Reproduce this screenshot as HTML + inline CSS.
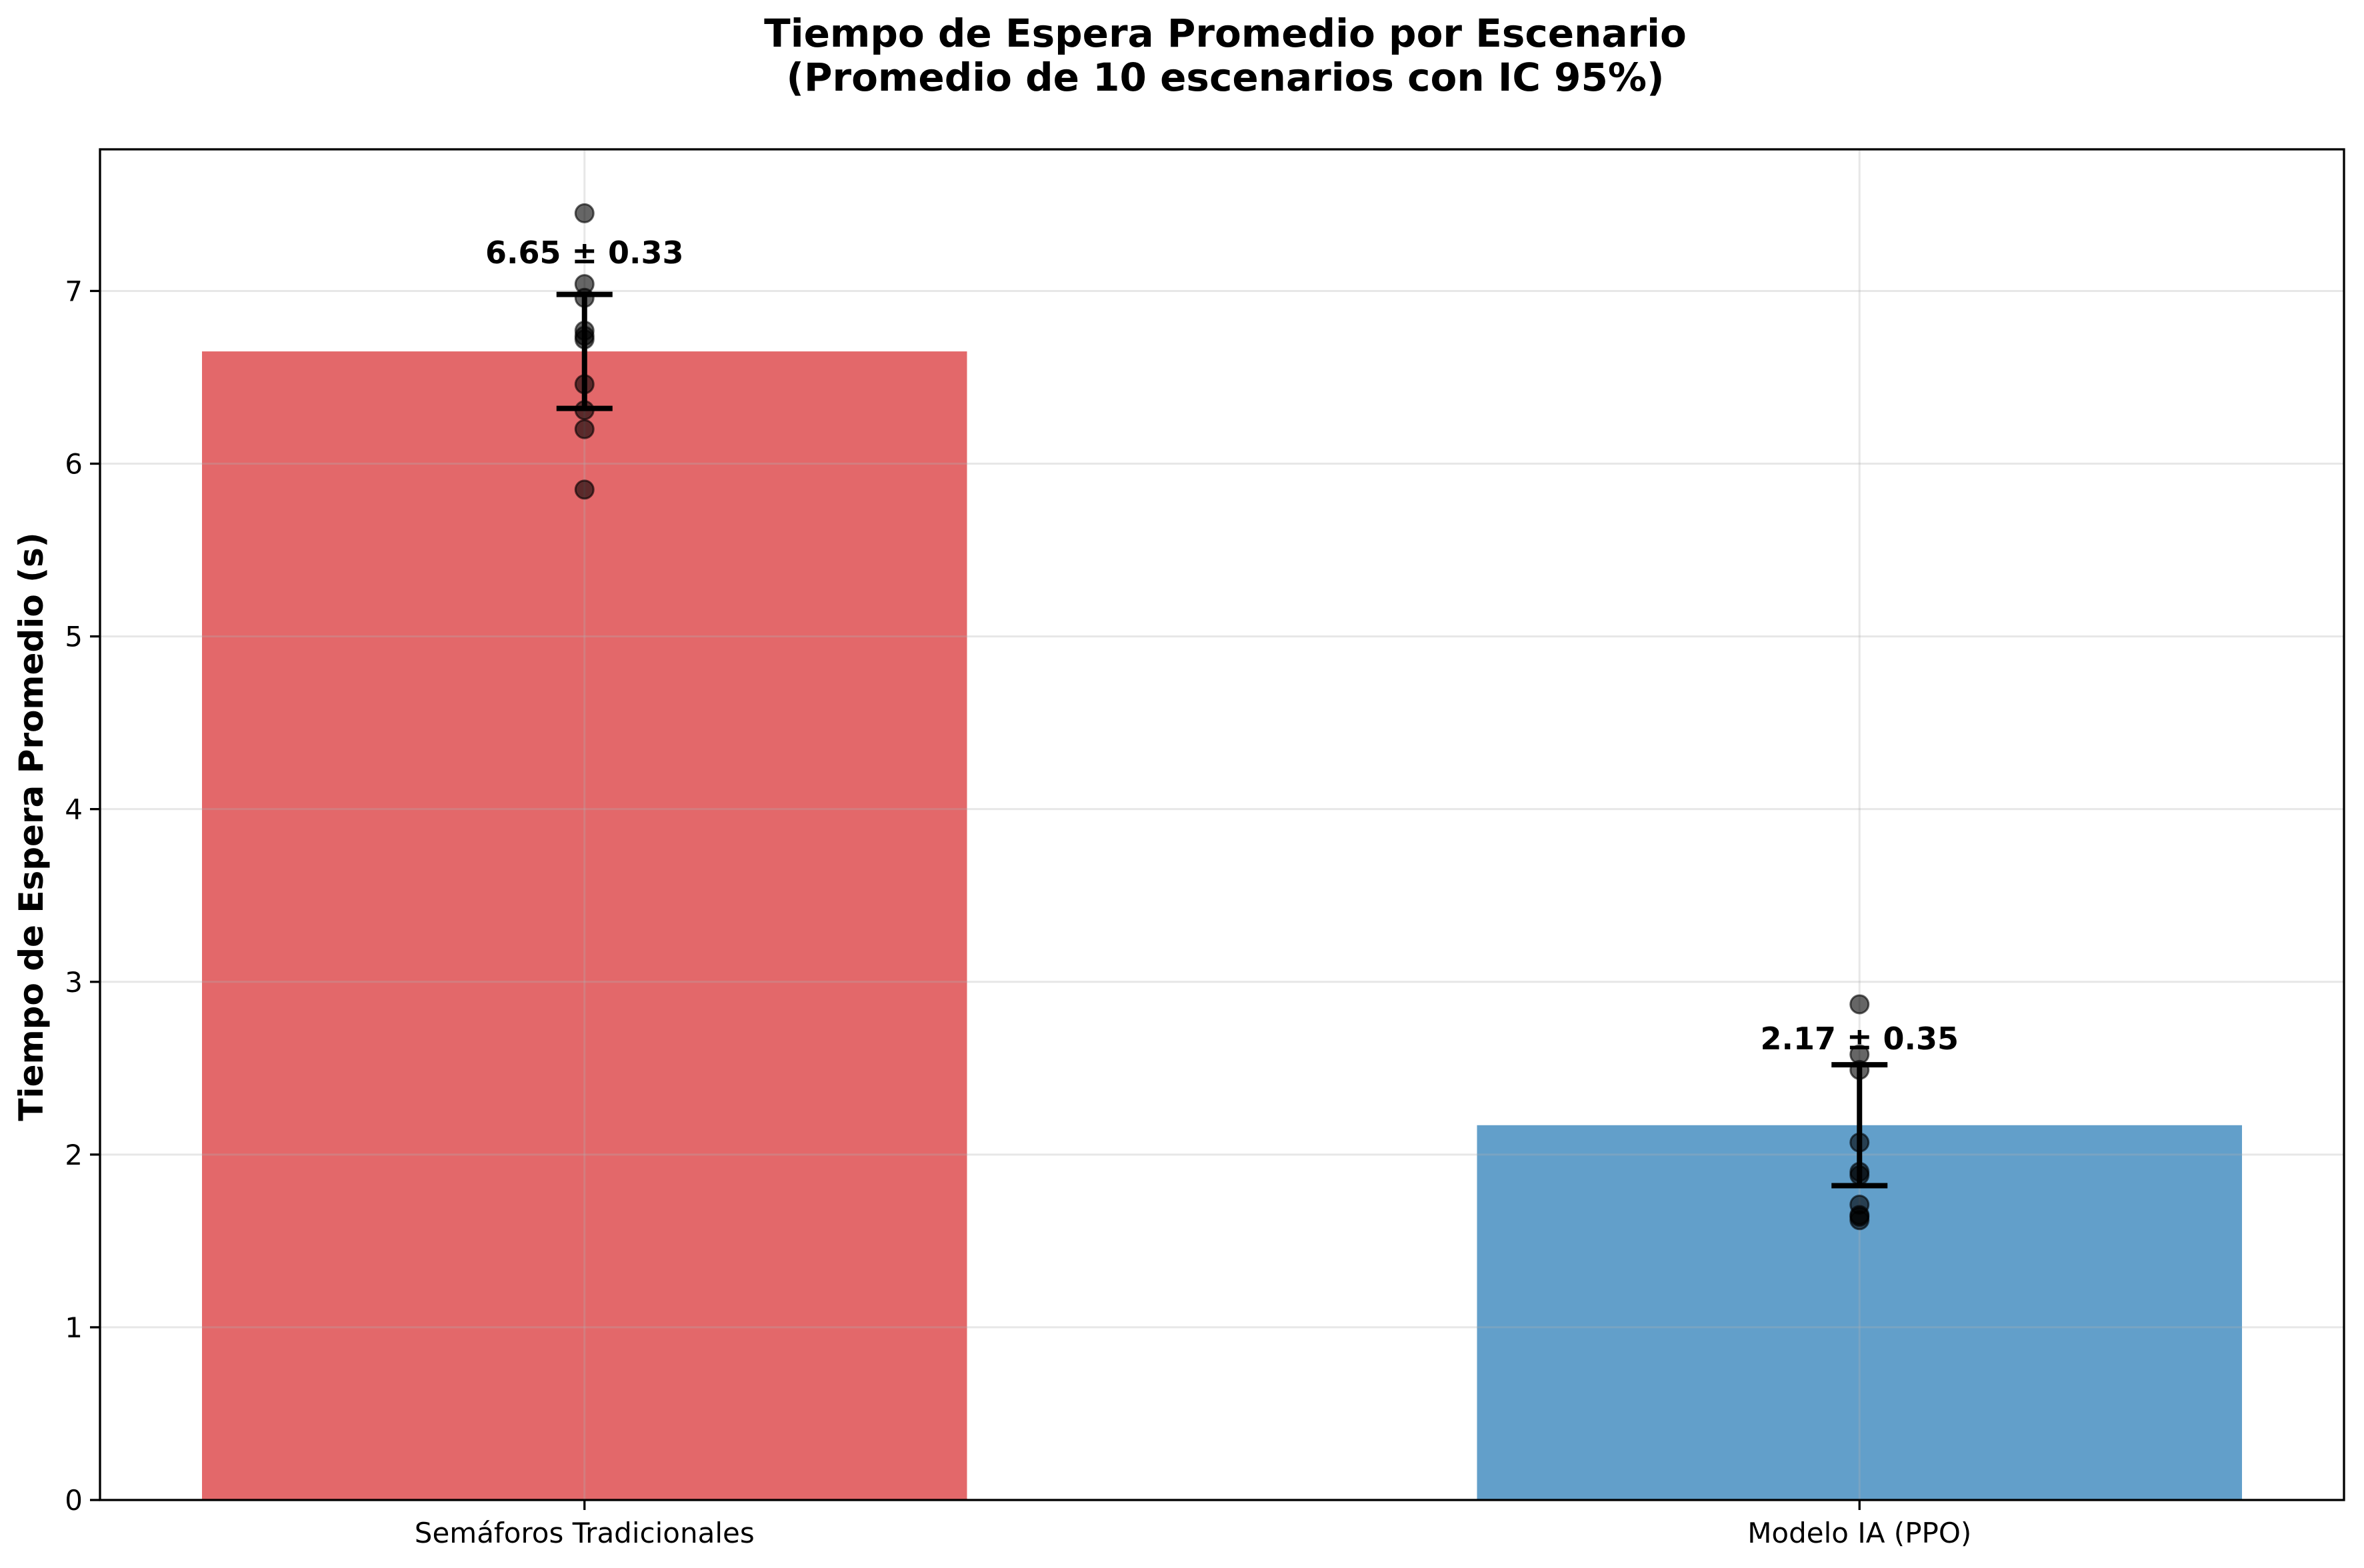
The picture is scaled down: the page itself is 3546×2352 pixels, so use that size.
<!DOCTYPE html>
<html><head><meta charset="utf-8">
<style>html,body{margin:0;padding:0;background:#fff}svg{display:block}text{font-family:"DejaVu Sans","Liberation Sans",sans-serif}</style>
</head><body>
<svg id="chart" width="3546" height="2352" viewBox="0 0 3546 2352" xmlns="http://www.w3.org/2000/svg">
<rect width="3546" height="2352" fill="#fff"/>
<text x="1838" y="70" text-anchor="middle" font-size="58" font-weight="bold">Tiempo de Espera Promedio por Escenario</text>
<text x="1838" y="136" text-anchor="middle" font-size="58" font-weight="bold">(Promedio de 10 escenarios con IC 95%)</text>
<text transform="translate(64,1240) rotate(-90)" text-anchor="middle" font-size="50" font-weight="bold">Tiempo de Espera Promedio (s)</text>
<g id="plot"></g>
</svg>
<script>
const categories = ["Semáforos Tradicionales", "Modelo IA (PPO)"];
const means = [6.65, 2.17];
const ci = [0.33, 0.35];
const labels = ["6.65 ± 0.33", "2.17 ± 0.35"];
const labelY = [7.16, 2.61];
const pointsTrad = [7.45, 7.04, 6.96, 6.77, 6.74, 6.72, 6.46, 6.31, 6.20, 5.85];
const pointsPPO = [2.87, 2.58, 2.49, 2.07, 1.90, 1.88, 1.71, 1.65, 1.64, 1.62];
const yTicks = [0, 1, 2, 3, 4, 5, 6, 7];
const colors = ["#e3686a", "#629fca"];

const L = 150, R = 3516, T = 224, B = 2250;
const xMin = -0.38, xMax = 1.38, yMax = 7.82;
const xs = v => L + (v - xMin) / (xMax - xMin) * (R - L);
const ys = v => B - v / yMax * (B - T);
const NS = "http://www.w3.org/2000/svg";
const g = document.getElementById("plot");
function mk(tag, attrs, parent) {
  const e = document.createElementNS(NS, tag);
  for (const k in attrs) e.setAttribute(k, attrs[k]);
  (parent || g).appendChild(e);
  return e;
}
categories.forEach((c, i) => {
  const w = xs(0.3) - xs(0);
  const b = mk("rect", {x: xs(i) - w, y: ys(means[i]), width: 2 * w, height: B - ys(means[i]), fill: colors[i]});
  
  
});
yTicks.forEach(t => {
  const l = mk("line", {x1: L, x2: R, y1: ys(t), y2: ys(t), stroke: "#b0b0b0", "stroke-opacity": 0.3, "stroke-width": 3});
  
  
});
categories.forEach((c, i) => {
  const l = mk("line", {x1: xs(i), x2: xs(i), y1: T, y2: B, stroke: "#b0b0b0", "stroke-opacity": 0.3, "stroke-width": 3});
  
  
});
[pointsTrad, pointsPPO].forEach((pts, i) => {
  pts.forEach(p => {
    const c = mk("circle", {cx: xs(i), cy: ys(p), r: 13.5, fill: "#000", "fill-opacity": 0.6, stroke: "#000", "stroke-opacity": 0.6, "stroke-width": 3});
    
    
  });
});
categories.forEach((c, i) => {
  const x = xs(i), y1 = ys(means[i] + ci[i]), y2 = ys(means[i] - ci[i]);
  const eg = mk("g", {stroke: "#000", "stroke-width": 8});
  
  
  mk("line", {x1: x, x2: x, y1: y1, y2: y2}, eg);
  mk("line", {x1: x - 42, x2: x + 42, y1: y1, y2: y1}, eg);
  mk("line", {x1: x - 42, x2: x + 42, y1: y2, y2: y2}, eg);
  const t = mk("text", {x: x, y: ys(labelY[i]), "text-anchor": "middle", "font-size": 46, "font-weight": "bold"});
  t.textContent = labels[i];
  
  
});
const f = mk("rect", {x: L, y: T, width: R - L, height: B - T, fill: "none", stroke: "#000", "stroke-width": 3.3});


yTicks.forEach(t => {
  const tk = mk("line", {x1: L - 15, x2: L, y1: ys(t), y2: ys(t), stroke: "#000", "stroke-width": 3.3});
  
  
  const tl = mk("text", {x: L - 26, y: ys(t) + 15, "text-anchor": "end", "font-size": 42});
  tl.textContent = t;
  
  
});
categories.forEach((c, i) => {
  const tk = mk("line", {x1: xs(i), x2: xs(i), y1: B, y2: B + 15, stroke: "#000", "stroke-width": 3.3});
  
  
  const tl = mk("text", {x: xs(i), y: B + 64, "text-anchor": "middle", "font-size": 42});
  tl.textContent = c;
  
  
});
</script>
</body></html>
